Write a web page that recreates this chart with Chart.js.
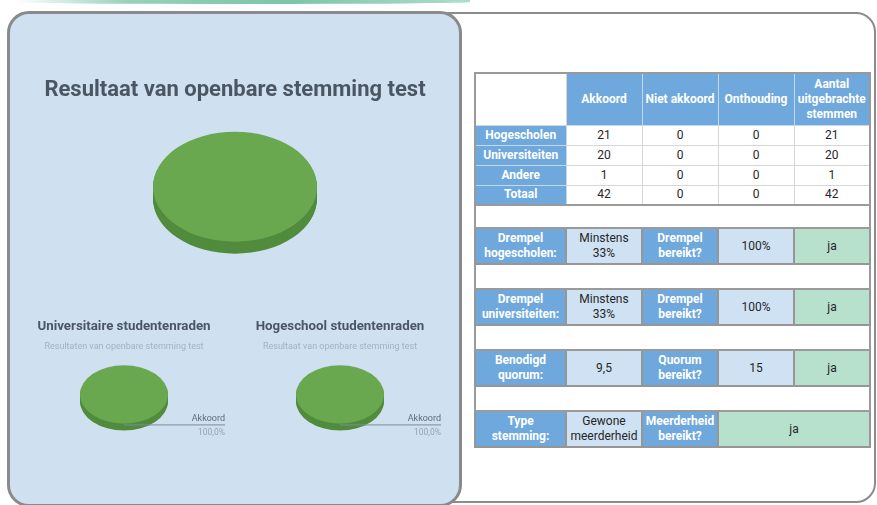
<!DOCTYPE html>
<html lang="nl">
<head>
<meta charset="utf-8">
<title>Resultaat van openbare stemming test</title>
<script src="https://cdn.jsdelivr.net/npm/chart.js@4.4.0/dist/chart.umd.min.js"></script>
<style>
    body { margin: 0; width: 877px; height: 505px; overflow: hidden; background: #fff; font-family: Roboto, sans-serif; position: relative; }
    .strip { position: absolute; left: 15px; top: 0; width: 455px; height: 4px; border-radius: 0 0 60% 60%;
        background: linear-gradient(to right, rgba(124,196,170,0) 0%, rgba(124,196,170,0.8) 25%, #7cc4aa 60%, rgba(124,196,170,0.6) 100%); }
    .panel-right { position: absolute; left: 430px; top: 12px; width: 442px; height: 487px; border: 2px solid #8c8c8c; border-radius: 20px; background: #fff; }
    .panel-left { position: absolute; left: 7px; top: 11px; width: 449px; height: 490px; border: 3px solid #8a8a8a; border-radius: 22px; background: #cfe0f1; z-index: 2; }
    .chart-box { position: absolute; z-index: 3; }
    #tableWrap { position: absolute; left: 474px; top: 72px; z-index: 3; }
    table { border-collapse: collapse; table-layout: fixed; width: 395px; font-size: 12px; line-height: 15px; border: 2px solid #9a9a9a; }
    td { padding: 0 1px; text-align: center; color: #262626; border: 1px solid #d6d6d6; overflow: hidden; white-space: nowrap; }
    td.h { background: #6fa8dc; color: #fff; font-weight: 700; border-color: #c4d8ec; }
    td.lb { background: #cfe2f3; }
    td.g { background: #b7e1cd; }
    tr.last td { border-bottom: 2px solid #9a9a9a; }
    tr.blank td { border: 2px solid #9a9a9a; background: #fff; }
    tr.info td { border: 2px solid #969696; }
</style>
</head>
<body>
<div class="strip"></div>
<div class="panel-right"></div>
<div class="panel-left"></div>

<div class="chart-box" style="left:10px;top:60px;width:450px;height:200px;"><canvas id="mainChart"></canvas></div>
<div class="chart-box" style="left:16px;top:310px;width:216px;height:140px;"><canvas id="uniChart"></canvas></div>
<div class="chart-box" style="left:232px;top:310px;width:216px;height:140px;"><canvas id="hsChart"></canvas></div>
<div id="tableWrap"></div>

<script>
// vote categories and results
const categories = ['Akkoord', 'Niet akkoord', 'Onthouding'];
const totaalVotes = [42, 0, 0];
const universiteitenVotes = [20, 0, 0];
const hogescholenVotes = [21, 0, 0];
const sliceColors = ['#6aa84f', '#e06666', '#f6b26b'];
const sideColors = ['#518c3d', '#b44d4d', '#c98a48'];

// table data
const tableColumns = ['Akkoord', 'Niet akkoord', 'Onthouding', 'Aantal<br>uitgebrachte<br>stemmen'];
const tableRows = ['Hogescholen', 'Universiteiten', 'Andere', 'Totaal'];
const akkoord = [21, 20, 1, 42];
const nietAkkoord = [0, 0, 0, 0];
const onthouding = [0, 0, 0, 0];
const uitgebracht = [21, 20, 1, 42];
const infoRows = [
    ['Drempel<br>hogescholen:', 'Minstens<br>33%', 'Drempel<br>bereikt?', '100%', 'ja'],
    ['Drempel<br>universiteiten:', 'Minstens<br>33%', 'Drempel<br>bereikt?', '100%', 'ja'],
    ['Benodigd<br>quorum:', '9,5', 'Quorum<br>bereikt?', '15', 'ja'],
    ['Type<br>stemming:', 'Gewone<br>meerderheid', 'Meerderheid<br>bereikt?', 'ja']
];

Chart.defaults.font.family = 'Roboto, sans-serif';

// squashes the pie into a disc and paints its side
const tiltPlugin = {
    id: 'tilt',
    beforeDatasetsDraw(chart, args, opts) {
        const ctx = chart.ctx;
        const arcs = chart.getDatasetMeta(0).data;
        if (!arcs.length) return;
        const { x, y } = arcs[0];
        ctx.save();
        arcs.forEach((arc, i) => {
            if (arc.endAngle - arc.startAngle <= 0) return;
            ctx.fillStyle = sideColors[i];
            for (let d = opts.depth; d > 0; d--) {
                ctx.beginPath();
                ctx.moveTo(x, y + d);
                ctx.ellipse(x, y + d, arc.outerRadius, arc.outerRadius * opts.ratio, 0, arc.startAngle, arc.endAngle);
                ctx.closePath();
                ctx.fill();
            }
        });
        ctx.translate(x, y);
        ctx.scale(1, opts.ratio);
        ctx.translate(-x, -y);
    },
    afterDatasetsDraw(chart) {
        if (chart.getDatasetMeta(0).data.length) chart.ctx.restore();
    }
};

// leader line with label and percentage
const leaderPlugin = {
    id: 'leader',
    afterDatasetsDraw(chart, args, opts) {
        if (!opts.show) return;
        const ctx = chart.ctx;
        const values = chart.data.datasets[0].data;
        const total = values.reduce((a, b) => a + b, 0);
        const ratio = chart.options.plugins.tilt.ratio;
        chart.getDatasetMeta(0).data.forEach((arc, i) => {
            if (!values[i]) return;
            const mid = (arc.startAngle + arc.endAngle) / 2;
            const px = arc.x + arc.outerRadius * Math.cos(mid);
            const py = arc.y + arc.outerRadius * ratio * Math.sin(mid) + 1;
            const endX = arc.x + opts.reach;
            ctx.save();
            ctx.strokeStyle = '#7d8a98';
            ctx.lineWidth = 1;
            ctx.beginPath();
            ctx.moveTo(px, py + 0.5);
            ctx.lineTo(endX, py + 0.5);
            ctx.stroke();
            ctx.textAlign = 'right';
            ctx.font = '9px Roboto, sans-serif';
            ctx.fillStyle = '#5f6b79';
            ctx.fillText(chart.data.labels[i], endX, py - 3);
            ctx.font = '8.5px Roboto, sans-serif';
            ctx.fillStyle = '#98a3ae';
            const pct = (values[i] / total * 100).toFixed(1).replace('.', ',') + '%';
            ctx.fillText(pct, endX, py + 11);
            ctx.restore();
        });
    }
};

function makePie(id, values, cfg) {
    return new Chart(document.getElementById(id), {
        type: 'pie',
        data: {
            labels: categories,
            datasets: [{
                data: values,
                backgroundColor: sliceColors,
                borderWidth: 0,
                radius: cfg.radius
            }]
        },
        options: {
            responsive: true,
            maintainAspectRatio: false,
            animation: false,
            events: [],
            layout: { padding: { bottom: cfg.padBottom || 0 } },
            plugins: {
                legend: { display: false },
                tooltip: { enabled: false },
                title: {
                    display: true,
                    text: cfg.title,
                    color: '#4b5663',
                    font: { size: cfg.titleSize, weight: 'bold' },
                    padding: cfg.titlePad
                },
                subtitle: {
                    display: !!cfg.subtitle,
                    text: cfg.subtitle || '',
                    color: '#a7b1bc',
                    font: { size: 9 },
                    padding: { top: 3, bottom: 8 }
                },
                tilt: { ratio: cfg.ratio, depth: cfg.depth },
                leader: { show: !!cfg.leader, reach: 101 }
            }
        },
        plugins: [tiltPlugin, leaderPlugin]
    });
}

makePie('mainChart', totaalVotes, {
    title: 'Resultaat van openbare stemming test',
    titleSize: 22, titlePad: { top: 17, bottom: 10 },
    radius: 82, ratio: 0.67, depth: 12
});
makePie('uniChart', universiteitenVotes, {
    title: 'Universitaire studentenraden',
    subtitle: 'Resultaten van openbare stemming test',
    titleSize: 13.3, titlePad: { top: 9, bottom: 3 },
    radius: 44, ratio: 0.66, depth: 7, padBottom: 21, leader: true
});
makePie('hsChart', hogescholenVotes, {
    title: 'Hogeschool studentenraden',
    subtitle: 'Resultaat van openbare stemming test',
    titleSize: 13.3, titlePad: { top: 9, bottom: 3 },
    radius: 44, ratio: 0.66, depth: 7, padBottom: 21, leader: true
});

// build the results table
function buildTable() {
    let html = '<table><colgroup><col style="width:91px"><col style="width:76px"><col style="width:76px"><col style="width:76px"><col style="width:76px"></colgroup>';
    html += '<tr style="height:52px"><td style="background:#fff"></td>';
    tableColumns.forEach((c) => { html += `<td class="h">${c}</td>`; });
    html += '</tr>';
    tableRows.forEach((r, i) => {
        const cls = i === tableRows.length - 1 ? ' class="last"' : '';
        html += `<tr${cls} style="height:20px"><td class="h">${r}</td><td>${akkoord[i]}</td><td>${nietAkkoord[i]}</td><td>${onthouding[i]}</td><td>${uitgebracht[i]}</td></tr>`;
    });
    infoRows.forEach((row, i) => {
        html += `<tr class="blank" style="height:${i === 0 ? 23 : 25}px"><td colspan="5"></td></tr>`;
        html += '<tr class="info" style="height:36px">';
        html += `<td class="h">${row[0]}</td><td class="lb">${row[1]}</td><td class="h">${row[2]}</td>`;
        if (row.length === 5) {
            html += `<td class="lb">${row[3]}</td><td class="g">${row[4]}</td>`;
        } else {
            html += `<td class="g" colspan="2">${row[3]}</td>`;
        }
        html += '</tr>';
    });
    html += '</table>';
    document.getElementById('tableWrap').innerHTML = html;
}
buildTable();
</script>
</body>
</html>
